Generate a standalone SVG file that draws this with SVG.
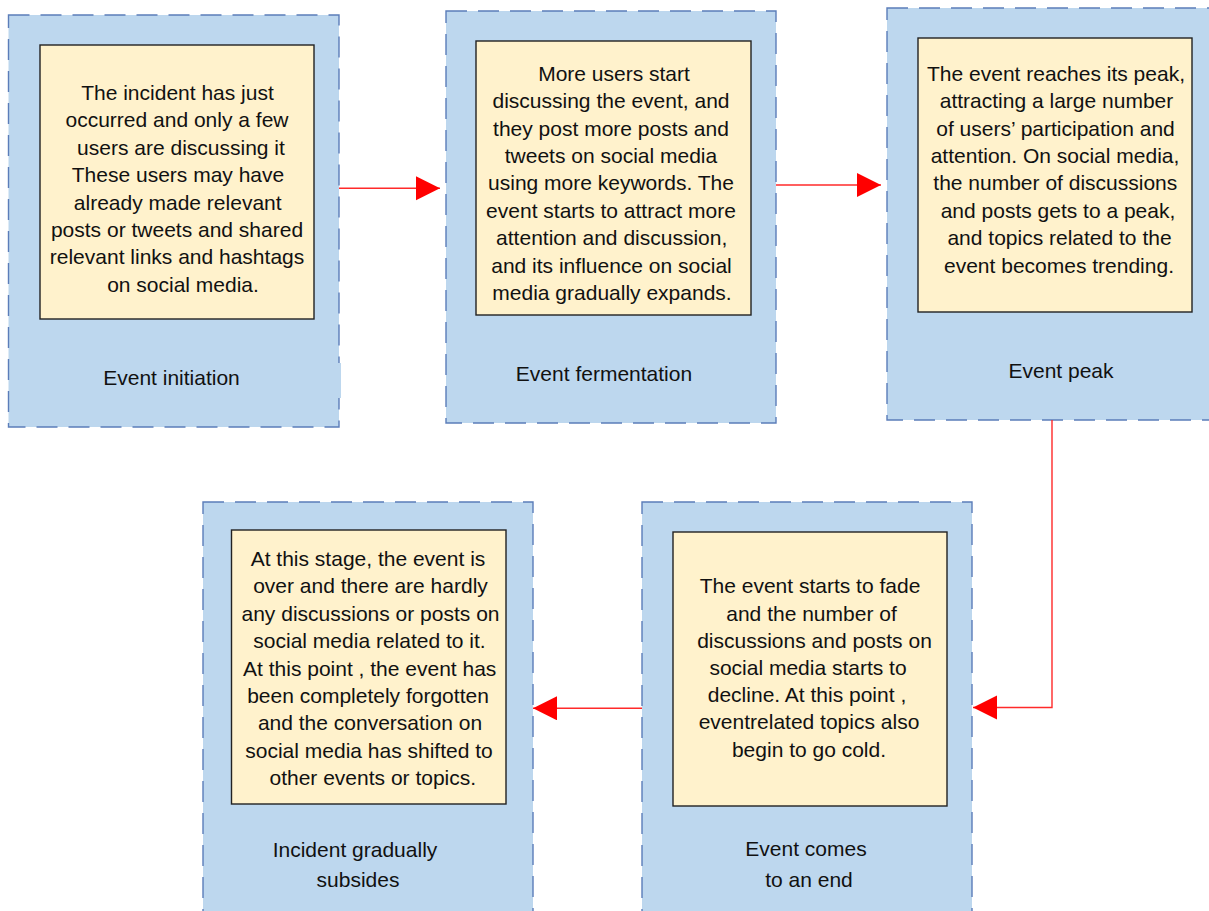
<svg xmlns="http://www.w3.org/2000/svg" width="1209" height="911" viewBox="0 0 1209 911">
<style>
.outer{fill:#BDD7EE;stroke:#5B7DB9;stroke-width:1.4;stroke-dasharray:21 11}
.inner{fill:#FFF2CC;stroke:#222;stroke-width:1.4}
.t{font-family:"Liberation Sans",Arial,sans-serif;font-size:21px;fill:#111;text-anchor:middle}
.edge{fill:none;stroke:#FF2A2A;stroke-width:1.4}
</style>
<defs>
<marker id="ah" markerUnits="userSpaceOnUse" markerWidth="26" markerHeight="26" refX="24" refY="12" orient="auto">
<path d="M0,0 L24,12 L0,24 z" fill="#FF0000"/>
</marker>
</defs>
<rect width="1209" height="911" fill="#fff"/>
<g id="n1">
<rect class="outer" x="8.5" y="15" width="330.5" height="412"/>
<rect x="320" y="363" width="21" height="35" fill="#BDD7EE"/>
<rect class="inner" x="40" y="45" width="274" height="274"/>
<text class="t"><tspan x="177.5" y="100">The incident has just</tspan><tspan x="177" y="127.4">occurred and only a few</tspan><tspan x="181" y="154.8">users are discussing it</tspan><tspan x="178" y="182.2">These users may have</tspan><tspan x="177.7" y="209.6">already made relevant</tspan><tspan x="177" y="237">posts or tweets and shared</tspan><tspan x="177" y="264.4">relevant links and hashtags</tspan><tspan x="183" y="291.8">on social media.</tspan></text>
<text class="t" x="171.5" y="385">Event initiation</text>
</g>
<g id="n2">
<rect class="outer" x="446" y="11" width="330" height="412"/>
<rect class="inner" x="476" y="41" width="275" height="274"/>
<text class="t"><tspan x="614" y="80.7">More users start</tspan><tspan x="611" y="108.1">discussing the event, and</tspan><tspan x="611" y="135.5">they post more posts and</tspan><tspan x="611" y="162.9">tweets on social media</tspan><tspan x="611" y="190.3">using more keywords. The</tspan><tspan x="611" y="217.7">event starts to attract more</tspan><tspan x="611.7" y="245.1">attention and discussion,</tspan><tspan x="611.5" y="272.5">and its influence on social</tspan><tspan x="612" y="299.9">media gradually expands.</tspan></text>
<text class="t" x="604" y="381">Event fermentation</text>
</g>
<g id="n3">
<rect class="outer" x="887" y="8" width="330" height="412"/>
<rect class="inner" x="918" y="38" width="274" height="274"/>
<text class="t"><tspan x="1056" y="80.7">The event reaches its peak,</tspan><tspan x="1056.5" y="108.1">attracting a large number</tspan><tspan x="1055.5" y="135.5">of users’ participation and</tspan><tspan x="1055" y="162.9">attention. On social media,</tspan><tspan x="1055.3" y="190.3">the number of discussions</tspan><tspan x="1058" y="217.7">and posts gets to a peak,</tspan><tspan x="1059.5" y="245.1">and topics related to the</tspan><tspan x="1059" y="272.5">event becomes trending.</tspan></text>
<text class="t" x="1061" y="378">Event peak</text>
</g>
<g id="n4">
<rect class="outer" x="203" y="502" width="330" height="412"/>
<rect class="inner" x="231.5" y="530" width="274.5" height="274"/>
<text class="t"><tspan x="368" y="566">At this stage, the event is</tspan><tspan x="370.5" y="593.4">over and there are hardly</tspan><tspan x="370.5" y="620.8">any discussions or posts on</tspan><tspan x="369.5" y="648.2">social media related to it.</tspan><tspan x="369.7" y="675.6">At this point , the event has</tspan><tspan x="368" y="703">been completely forgotten</tspan><tspan x="370" y="730.4">and the conversation on</tspan><tspan x="369" y="757.8">social media has shifted to</tspan><tspan x="372.8" y="785.2">other events or topics.</tspan></text>
<text class="t" x="355" y="856.7">Incident gradually</text>
<text class="t" x="358" y="887">subsides</text>
</g>
<g id="n5">
<rect class="outer" x="642" y="502" width="330" height="412"/>
<rect class="inner" x="673" y="532" width="274" height="274"/>
<text class="t"><tspan x="810" y="593.3">The event starts to fade</tspan><tspan x="811.5" y="620.5">and the number of</tspan><tspan x="814.5" y="647.7">discussions and posts on</tspan><tspan x="808" y="674.9">social media starts to</tspan><tspan x="807" y="702.1">decline. At this point ,</tspan><tspan x="809" y="729.3">eventrelated topics also</tspan><tspan x="809" y="756.5">begin to go cold.</tspan></text>
<text class="t" x="806" y="856">Event comes</text>
<text class="t" x="809" y="887">to an end</text>
</g>
<g id="connectors">
<path class="edge" d="M339,188.3 L440,188.3" marker-end="url(#ah)"/>
<path class="edge" d="M776,185 L881,185" marker-end="url(#ah)"/>
<path class="edge" d="M1052,420 L1052,707.5 L973,707.5" marker-end="url(#ah)"/>
<path class="edge" d="M642,708.3 L533,708.3" marker-end="url(#ah)"/>
</g>
</svg>
